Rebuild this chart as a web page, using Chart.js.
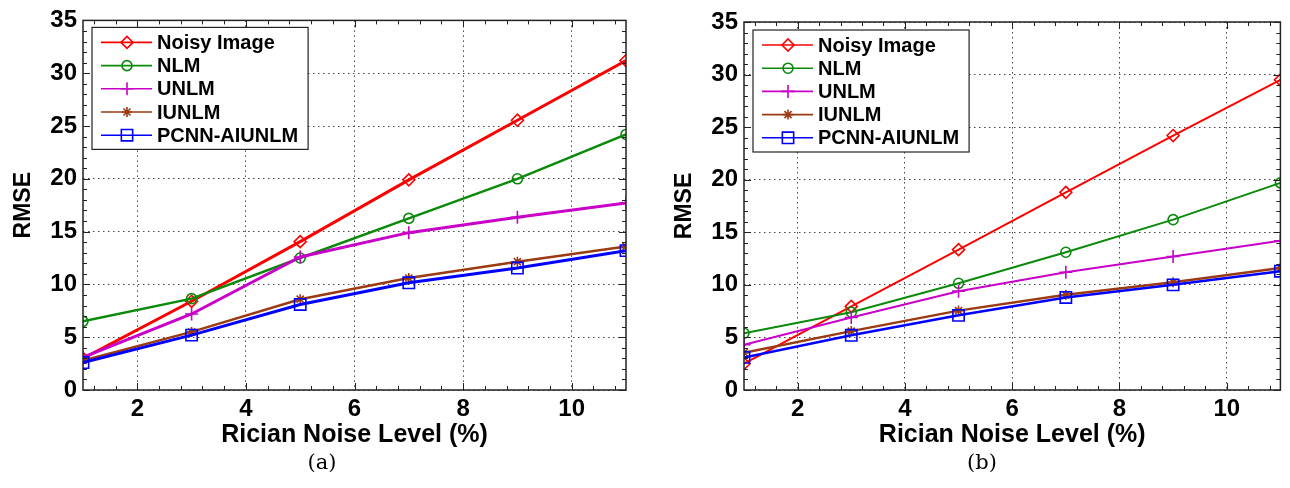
<!DOCTYPE html>
<html>
<head>
<meta charset="utf-8">
<script src="https://cdn.jsdelivr.net/npm/chart.js@4.4.1/dist/chart.umd.min.js"></script>
<style>
  body { margin: 0; background: #fff; width: 1290px; height: 488px; overflow: hidden; position: relative; }
  .panel { position: absolute; top: 0; width: 645px; height: 455px; }
  #wrapA { left: 0; }
  #wrapB { left: 645px; }
  .cap { position: absolute; top: 450px; transform: translateX(-50%); font-family: "DejaVu Serif", "Liberation Serif", serif; font-size: 21px; color: #000; }
</style>
</head>
<body>
<div class="panel" id="wrapA"><canvas id="chartA" width="645" height="455"></canvas></div>
<div class="panel" id="wrapB"><canvas id="chartB" width="645" height="455"></canvas></div>
<div class="cap" style="left:322px">(a)</div>
<div class="cap" style="left:982px">(b)</div>
<script>
// ─── DATA
const noiseLevels = [1, 3, 5, 7, 9, 11];
const seriesNames = ["Noisy Image", "NLM", "UNLM", "IUNLM", "PCNN-AIUNLM"];
const xTicks = [2, 4, 6, 8, 10];
const yTicks = [0, 5, 10, 15, 20, 25, 30, 35];

// panel (a)
const noisyA = [3.0, 8.4, 14.05, 19.9, 25.55, 31.2];
const nlmA = [6.5, 8.65, 12.5, 16.25, 20.0, 24.2];
const unlmA = [3.1, 7.2, 12.6, 14.9, 16.35, 17.7];
const iunlmA = [2.8, 5.5, 8.6, 10.6, 12.15, 13.6];
const pcnnA = [2.6, 5.2, 8.1, 10.15, 11.55, 13.2];

// panel (b)
const noisyB = [2.5, 7.95, 13.35, 18.8, 24.2, 29.5];
const nlmB = [5.4, 7.4, 10.15, 13.1, 16.2, 19.7];
const unlmB = [4.3, 6.9, 9.4, 11.2, 12.7, 14.2];
const iunlmB = [3.55, 5.6, 7.55, 9.05, 10.25, 11.6];
const pcnnB = [3.1, 5.2, 7.1, 8.8, 10.0, 11.3];

// ─── STYLE
const colors = ["#ff0000", "#0a8a0a", "#c800c8", "#9c3a12", "#0000ff"];
const markers = ["rectRot", "circle", "cross", "star", "rect"];
const markerSize = [6, 5, 6.5, 5, 8];
const FONT = "'Liberation Sans', Arial, sans-serif";
const X_MINOR = 0.4;
const Y_MINOR = 1;

// frame + inward ticks on all four sides (matlab style box)
const frameTicks = {
  id: "frameTicks",
  afterDatasetsDraw(chart) {
    const { ctx, chartArea: a, scales } = chart;
    const x = scales.x, y = scales.y;
    ctx.save();
    ctx.strokeStyle = "#222";
    ctx.lineWidth = 1.5;
    ctx.strokeRect(a.left, a.top, a.right - a.left, a.bottom - a.top);
    ctx.lineWidth = 1;
    ctx.beginPath();
    for (let k = Math.ceil(x.min / X_MINOR); k * X_MINOR <= x.max + 1e-9; k++) {
      const v = k * X_MINOR;
      const len = xTicks.some((t) => Math.abs(t - v) < 1e-6) ? 7 : 4;
      const px = Math.round(x.getPixelForValue(v)) + 0.5;
      ctx.moveTo(px, a.bottom); ctx.lineTo(px, a.bottom - len);
      ctx.moveTo(px, a.top); ctx.lineTo(px, a.top + len);
    }
    for (let v = y.min; v <= y.max + 1e-9; v += Y_MINOR) {
      const len = yTicks.includes(v) ? 7 : 4;
      const py = Math.round(y.getPixelForValue(v)) + 0.5;
      ctx.moveTo(a.left, py); ctx.lineTo(a.left + len, py);
      ctx.moveTo(a.right, py); ctx.lineTo(a.right - len, py);
    }
    ctx.stroke();
    ctx.restore();
  },
};

// legend box in the top-left corner of the plot
const boxLegend = {
  id: "boxLegend",
  afterDraw(chart, args, opts) {
    const { ctx, chartArea: a } = chart;
    const sets = chart.data.datasets;
    ctx.save();
    ctx.font = "bold 20px " + FONT;
    const textW = Math.max(...sets.map((d) => ctx.measureText(d.label).width));
    const bx = a.left + 9, by = a.top + opts.top;
    const bw = 65 + textW + 10, bh = opts.rowH * sets.length + 6;
    ctx.fillStyle = "#fff";
    ctx.fillRect(bx, by, bw, bh);
    ctx.strokeStyle = "#222";
    ctx.lineWidth = 1.2;
    ctx.strokeRect(bx, by, bw, bh);
    sets.forEach((d, i) => {
      const cy = by + 15 + i * opts.rowH;
      ctx.strokeStyle = d.borderColor;
      ctx.lineWidth = 1.6;
      ctx.beginPath();
      ctx.moveTo(bx + 9, cy); ctx.lineTo(bx + 60, cy);
      ctx.stroke();
      ctx.fillStyle = d.pointStyle === "star" ? d.borderColor : "rgba(0,0,0,0)";
      Chart.helpers.drawPoint(ctx, {
        pointStyle: d.pointStyle, radius: d.pointRadius, borderWidth: 1.5,
      }, bx + 35, cy);
      ctx.fillStyle = "#000";
      ctx.textBaseline = "middle";
      ctx.fillText(d.label, bx + 65, cy + 1);
    });
    ctx.restore();
  },
};

function makeChart(id, series, lay) {
  return new Chart(document.getElementById(id), {
    type: "line",
    data: {
      datasets: series.map((vals, i) => ({
        label: seriesNames[i],
        data: noiseLevels.map((x, j) => ({ x, y: vals[j] })),
        borderColor: colors[i],
        borderWidth: lay.widths[i],
        pointStyle: markers[i],
        pointRadius: markerSize[i],
        pointBorderWidth: 1.6,
        pointBorderColor: colors[i],
        pointBackgroundColor: "rgba(0,0,0,0)",
        tension: 0,
        order: 5 - i,
      })),
    },
    options: {
      responsive: false,
      animation: false,
      layout: { padding: { top: lay.top, right: lay.right, left: 0, bottom: 0 } },
      plugins: {
        legend: { display: false },
        tooltip: { enabled: false },
        boxLegend: { top: lay.legendTop, rowH: 23.2 },
      },
      scales: {
        x: {
          type: "linear",
          min: 1,
          max: 11,
          afterBuildTicks: (s) => { s.ticks = xTicks.map((v) => ({ value: v })); },
          afterFit: (s) => { s.height = 455 - 390; },
          grid: { color: "#444", lineWidth: 1, drawTicks: false },
          border: { display: false, dash: [1.5, 3.5] },
          ticks: { color: "#000", padding: 5, font: { family: FONT, size: 24, weight: "bold" } },
          title: {
            display: true, text: "Rician Noise Level (%)", color: "#000",
            padding: { top: 0, bottom: 5 },
            font: { family: FONT, size: 25, weight: "bold" },
          },
        },
        y: {
          min: 0,
          max: 35,
          afterBuildTicks: (s) => { s.ticks = yTicks.map((v) => ({ value: v })); },
          afterFit: (s) => { s.width = lay.left; },
          grid: { color: "#444", lineWidth: 1, drawTicks: false },
          border: { display: false, dash: [1.5, 3.5] },
          ticks: { color: "#000", padding: 6, font: { family: FONT, size: 24, weight: "bold" } },
          title: {
            display: true, text: "RMSE", color: "#000",
            padding: { top: lay.titlePad, bottom: 0 },
            font: { family: FONT, size: 23, weight: "bold" },
          },
        },
      },
    },
    plugins: [frameTicks, boxLegend],
  });
}

makeChart("chartA", [noisyA, nlmA, unlmA, iunlmA, pcnnA], {
  left: 83, top: 20, right: 19, titlePad: 10, legendTop: 7,
  widths: [3, 2.5, 3, 2.5, 3],
});
makeChart("chartB", [noisyB, nlmB, unlmB, iunlmB, pcnnB], {
  left: 99, top: 22, right: 8, titlePad: 26, legendTop: 8,
  widths: [2, 2, 2, 2.5, 2.5],
});
</script>
</body>
</html>
